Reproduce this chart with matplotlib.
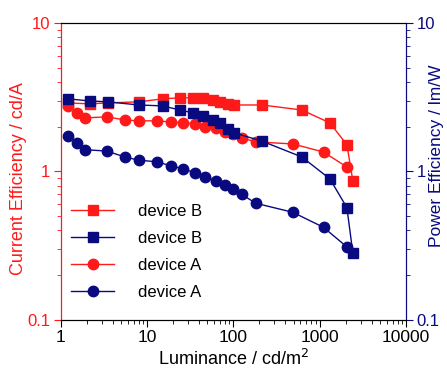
import matplotlib.pyplot as plt
from matplotlib.ticker import LogLocator, NullFormatter, FixedLocator, FixedFormatter

# device B luminance (cd/m2) and efficiencies
lum_b = [1.2, 2.17, 3.5, 8.0, 15.2, 24, 34, 44, 58, 70, 86, 101, 214, 623, 1316, 2072, 2432]
ce_b = [2.89, 2.85, 2.89, 2.94, 3.08, 3.13, 3.13, 3.13, 3.03, 2.94, 2.85, 2.80, 2.80, 2.59, 2.12, 1.51, 0.86]
pe_b = [3.08, 2.98, 2.94, 2.80, 2.76, 2.59, 2.48, 2.36, 2.22, 2.12, 1.93, 1.82, 1.60, 1.25, 0.89, 0.57, 0.28]

# device A
lum_a = [1.21, 1.53, 1.90, 3.42, 5.52, 8.0, 13.0, 18.9, 26, 36, 47, 63, 80, 98, 125, 182, 490, 1110, 2070]
ce_a = [2.76, 2.48, 2.29, 2.33, 2.22, 2.19, 2.19, 2.15, 2.12, 2.09, 1.99, 1.96, 1.85, 1.79, 1.68, 1.58, 1.53, 1.35, 1.07]
pe_a = [1.73, 1.56, 1.40, 1.37, 1.25, 1.19, 1.16, 1.09, 1.04, 0.98, 0.92, 0.86, 0.81, 0.76, 0.70, 0.61, 0.53, 0.42, 0.31]

red = '#ff1a1a'
navy = '#0a0a80'

plt.rcParams['font.family'] = ['Liberation Sans', 'DejaVu Sans']

fig = plt.figure(figsize=(4.47, 3.75), dpi=100)
ax = fig.add_axes([0.136, 0.147, 0.772, 0.792])
ax2 = ax.twinx()

l1, = ax.plot(lum_b, ce_b, '-s', color=red, ms=6.5, lw=1, label='device B')
l3, = ax.plot(lum_a, ce_a, '-o', color=red, ms=7.5, lw=1, label='device A')
l2, = ax2.plot(lum_b, pe_b, '-s', color=navy, ms=6.5, lw=1, label='device B')
l4, = ax2.plot(lum_a, pe_a, '-o', color=navy, ms=7.5, lw=1, label='device A')

for a in (ax, ax2):
    a.set_xscale('log')
    a.set_yscale('log')
    a.set_xlim(1, 10000)
    a.set_ylim(0.1, 10)
    a.yaxis.set_major_locator(FixedLocator([0.1, 1, 10]))
    a.yaxis.set_major_formatter(FixedFormatter(['0.1', '1', '10']))
    a.yaxis.set_minor_locator(LogLocator(base=10, subs=range(2, 10)))
    a.yaxis.set_minor_formatter(NullFormatter())

ax.xaxis.set_major_locator(FixedLocator([1, 10, 100, 1000, 10000]))
ax.xaxis.set_major_formatter(FixedFormatter(['1', '10', '100', '1000', '10000']))
ax.xaxis.set_minor_locator(LogLocator(base=10, subs=range(2, 10)))
ax.xaxis.set_minor_formatter(NullFormatter())

ax.spines['left'].set_color(red)
ax2.spines['left'].set_color(red)
ax.spines['right'].set_color(navy)
ax2.spines['right'].set_color(navy)

ax.tick_params(axis='y', which='both', colors=red, labelsize=12, direction='out', pad=2.5)
ax.tick_params(axis='y', which='major', length=5)
ax.tick_params(axis='y', which='minor', length=3)
ax2.tick_params(axis='y', which='both', colors=navy, labelsize=12, direction='out', pad=2.5)
ax2.tick_params(axis='y', which='major', length=5)
ax2.tick_params(axis='y', which='minor', length=3)
ax.tick_params(axis='x', which='both', labelsize=12.5, direction='out', pad=2)
ax.tick_params(axis='x', which='major', length=5)
ax.tick_params(axis='x', which='minor', length=3)

ax.set_xlabel('Luminance / cd/m$^2$', fontsize=13, labelpad=3)
ax.set_ylabel('Current Efficiency / cd/A', fontsize=13, color=red)
ax2.set_ylabel('Power Efficiency / lm/W', fontsize=12.5, color=navy)
ax.yaxis.set_label_coords(-0.099, 0.475)
ax2.yaxis.set_label_coords(1.068, 0.552)

ax2.legend([l1, l2, l3, l4], ['device B', 'device B', 'device A', 'device A'],
           loc='lower left', bbox_to_anchor=(-0.014, 0.016), frameon=False, fontsize=12,
           handlelength=2.6, handletextpad=1.4, labelspacing=0.72)

fig.savefig('out.png', dpi=100)
